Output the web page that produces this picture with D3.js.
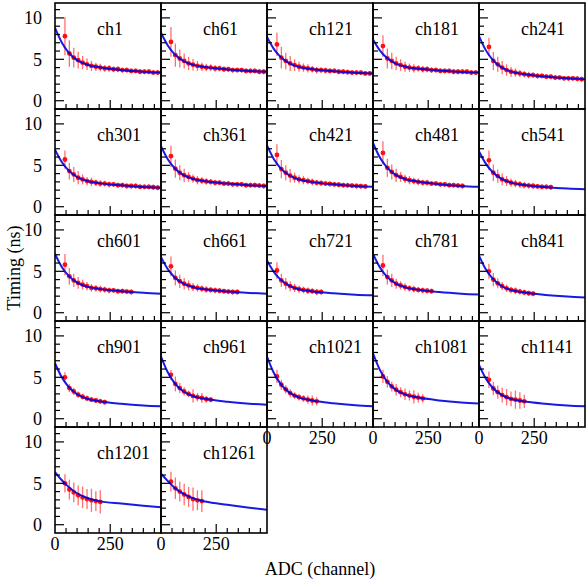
<!doctype html>
<html lang="en">
<head>
  <meta charset="utf-8">
  <title>Timing vs ADC</title>
  <script src="https://d3js.org/d3.v7.min.js" charset="utf-8"></script>
</head>
<body style="margin:0;background:#fff">
<style>
.chart text {
  font-family: "Liberation Serif", "Times New Roman", serif;
  font-size: 18px;
  fill: black;
}
</style>
<svg class="chart"></svg>
<script>
var channels = ["ch1","ch61","ch121","ch181","ch241",
                "ch301","ch361","ch421","ch481","ch541",
                "ch601","ch661","ch721","ch781","ch841",
                "ch901","ch961","ch1021","ch1081","ch1141",
                "ch1201","ch1261"];

// fitted curve, sampled at these ADC values
var fitAdc = [0, 30, 60, 100, 150, 200, 300, 400, 480];
var fitTiming = [
  [8.8, 7.07, 5.88, 4.91, 4.32, 4.05, 3.72, 3.51, 3.4],
  [8.2, 6.7, 5.66, 4.82, 4.3, 4.06, 3.78, 3.59, 3.5],
  [7.7, 6.29, 5.32, 4.53, 4.05, 3.83, 3.56, 3.39, 3.3],
  [7.4, 6.12, 5.24, 4.52, 4.08, 3.88, 3.64, 3.48, 3.4],
  [7.8, 6.14, 4.99, 4.06, 3.48, 3.22, 2.91, 2.7, 2.6],
  [6.9, 5.43, 4.42, 3.59, 3.08, 2.85, 2.58, 2.39, 2.3],
  [7.3, 5.76, 4.71, 3.84, 3.32, 3.08, 2.79, 2.6, 2.5],
  [7.4, 5.8, 4.7, 3.8, 3.25, 3.0, 2.7, 2.5, 2.4],
  [7.7, 6.0, 4.84, 3.88, 3.3, 3.04, 2.72, 2.51, 2.4],
  [6.7, 5.23, 4.22, 3.39, 2.88, 2.65, 2.38, 2.19, 2.1],
  [7.1, 5.56, 4.51, 3.64, 3.12, 2.88, 2.59, 2.4, 2.3],
  [6.7, 5.29, 4.32, 3.53, 3.05, 2.83, 2.56, 2.39, 2.3],
  [6.3, 4.96, 4.03, 3.28, 2.81, 2.6, 2.35, 2.18, 2.1],
  [7.1, 5.53, 4.45, 3.57, 3.03, 2.79, 2.49, 2.3, 2.2],
  [6.9, 5.28, 4.17, 3.26, 2.71, 2.46, 2.15, 1.95, 1.85],
  [6.7, 5.04, 3.89, 2.96, 2.38, 2.12, 1.81, 1.6, 1.5],
  [7.5, 5.64, 4.37, 3.32, 2.69, 2.4, 2.05, 1.82, 1.7],
  [7.5, 5.58, 4.26, 3.18, 2.52, 2.22, 1.86, 1.62, 1.5],
  [7.9, 5.96, 4.63, 3.54, 2.88, 2.58, 2.21, 1.97, 1.85],
  [6.5, 4.9, 3.8, 2.9, 2.35, 2.1, 1.8, 1.6, 1.5],
  [6.35, 5.4, 4.6, 3.8, 3.2, 2.85, 2.55, 2.3, 2.1],
  [6.15, 5.3, 4.5, 3.75, 3.15, 2.8, 2.4, 2.05, 1.8]
];

// measured points (ADC bin centres)
var pointAdc = [45, 65, 85, 105, 125, 145, 165, 185, 205, 225, 245,
                265, 285, 305, 325, 345, 365, 385, 405, 425, 445, 465];
var pointTiming = [
  [7.8, 5.7, 5.2, 4.9, 4.6, 4.4, 4.2, 4.1, 4.0, 3.9, 3.9, 3.8, 3.8, 3.7, 3.7, 3.6, 3.6, 3.5, 3.5, 3.5, 3.4, 3.4],
  [7.1, 5.5, 5.1, 4.8, 4.5, 4.35, 4.2, 4.1, 4.0, 4.0, 3.9, 3.9, 3.8, 3.8, 3.7, 3.7, 3.7, 3.6, 3.6, 3.6, 3.5, 3.5],
  [6.8, 5.2, 4.8, 4.5, 4.3, 4.1, 4.0, 3.9, 3.8, 3.7, 3.7, 3.65, 3.6, 3.6, 3.5, 3.5, 3.45, 3.4, 3.4, 3.4, 3.3, 3.3],
  [6.6, 5.1, 4.8, 4.5, 4.3, 4.1, 4.0, 3.9, 3.9, 3.8, 3.8, 3.7, 3.7, 3.6, 3.6, 3.6, 3.5, 3.5, 3.5, 3.5, 3.4, 3.4],
  [6.5, 4.8, 4.4, 4.0, 3.7, 3.5, 3.4, 3.3, 3.2, 3.1, 3.1, 3.0, 3.0, 2.9, 2.9, 2.8, 2.8, 2.7, 2.7, 2.7, 2.65, 2.6],
  [5.7, 4.3, 3.9, 3.5, 3.3, 3.1, 3.0, 2.9, 2.8, 2.8, 2.7, 2.7, 2.6, 2.6, 2.5, 2.5, 2.5, 2.4, 2.4, 2.4, 2.35, 2.3],
  [6.1, 4.6, 4.1, 3.8, 3.6, 3.4, 3.2, 3.15, 3.05, 3.0, 2.9, 2.9, 2.8, 2.8, 2.7, 2.7, 2.7, 2.6, 2.6, 2.6, 2.55, 2.5],
  [6.25, 4.55, 4.1, 3.75, 3.5, 3.3, 3.2, 3.1, 3.0, 2.9, 2.85, 2.8, 2.75, 2.7, 2.65, 2.6, 2.58, 2.54, 2.5, 2.48, 2.45],
  [6.5, 4.7, 4.2, 3.8, 3.6, 3.35, 3.2, 3.1, 3.0, 2.9, 2.9, 2.8, 2.8, 2.7, 2.7, 2.6, 2.6, 2.55, 2.5],
  [5.6, 4.1, 3.7, 3.3, 3.1, 2.9, 2.8, 2.7, 2.6, 2.55, 2.5, 2.45, 2.4, 2.4, 2.35],
  [5.8, 4.4, 3.9, 3.6, 3.4, 3.2, 3.0, 2.95, 2.85, 2.8, 2.7, 2.7, 2.6, 2.6, 2.55, 2.5],
  [5.6, 4.2, 3.8, 3.5, 3.3, 3.1, 3.0, 2.9, 2.8, 2.75, 2.7, 2.65, 2.6, 2.55, 2.5, 2.5],
  [5.1, 3.9, 3.5, 3.2, 3.0, 2.85, 2.75, 2.65, 2.6, 2.5, 2.5],
  [5.7, 4.3, 3.9, 3.5, 3.3, 3.1, 2.95, 2.85, 2.75, 2.7, 2.65, 2.6],
  [5.0, 4.0, 3.55, 3.2, 2.95, 2.75, 2.65, 2.55, 2.45, 2.35, 2.3],
  [5.0, 3.7, 3.3, 2.9, 2.65, 2.45, 2.3, 2.2, 2.1, 2.0],
  [5.3, 4.2, 3.7, 3.3, 3.0, 2.75, 2.6, 2.5, 2.35, 2.3],
  [5.1, 4.1, 3.55, 3.1, 2.8, 2.6, 2.45, 2.3, 2.2, 2.1],
  [5.1, 4.45, 3.9, 3.5, 3.2, 2.95, 2.8, 2.65, 2.55, 2.45],
  [4.7, 3.65, 3.2, 2.85, 2.6, 2.4, 2.3, 2.2, 2.1],
  [5.0, 4.25, 3.9, 3.55, 3.3, 3.1, 2.95, 2.85, 2.75],
  [5.2, 4.4, 4.0, 3.65, 3.35, 3.1, 2.95, 2.85]
];
var pointError = [
  [2.3, 1.6, 1.2, 1.0, 0.8, 0.7, 0.6, 0.5, 0.45, 0.4, 0.4, 0.35, 0.35, 0.3, 0.3, 0.3, 0.3, 0.3, 0.3, 0.3, 0.3, 0.3],
  [1.8, 1.4, 1.1, 0.9, 0.8, 0.7, 0.6, 0.5, 0.45, 0.4, 0.4, 0.35, 0.35, 0.3, 0.3, 0.3, 0.3, 0.3, 0.3, 0.3, 0.3, 0.3],
  [1.4, 1.3, 1.0, 0.9, 0.7, 0.6, 0.5, 0.5, 0.4, 0.4, 0.35, 0.35, 0.3, 0.3, 0.3, 0.3, 0.3, 0.3, 0.3, 0.3, 0.3, 0.3],
  [1.3, 1.2, 1.0, 0.8, 0.7, 0.6, 0.5, 0.5, 0.4, 0.4, 0.35, 0.35, 0.3, 0.3, 0.3, 0.3, 0.3, 0.3, 0.3, 0.3, 0.3, 0.3],
  [1.1, 1.1, 0.9, 0.8, 0.7, 0.6, 0.5, 0.45, 0.4, 0.4, 0.35, 0.35, 0.3, 0.3, 0.3, 0.3, 0.3, 0.3, 0.3, 0.3, 0.3, 0.3],
  [1.1, 1.0, 0.9, 0.8, 0.6, 0.5, 0.5, 0.4, 0.4, 0.35, 0.35, 0.3, 0.3, 0.3, 0.3, 0.3, 0.3, 0.3, 0.3, 0.3, 0.3, 0.3],
  [1.3, 1.1, 0.9, 0.8, 0.6, 0.5, 0.5, 0.4, 0.4, 0.35, 0.35, 0.3, 0.3, 0.3, 0.3, 0.3, 0.3, 0.3, 0.3, 0.3, 0.3, 0.3],
  [1.3, 1.1, 0.9, 0.8, 0.6, 0.5, 0.5, 0.4, 0.4, 0.35, 0.35, 0.3, 0.3, 0.3, 0.3, 0.3, 0.3, 0.3, 0.3, 0.3, 0.3],
  [1.4, 1.1, 0.9, 0.8, 0.6, 0.5, 0.5, 0.4, 0.4, 0.35, 0.35, 0.3, 0.3, 0.3, 0.3, 0.3, 0.3, 0.3, 0.3],
  [1.2, 1.0, 0.8, 0.7, 0.6, 0.5, 0.45, 0.4, 0.4, 0.35, 0.35, 0.3, 0.3, 0.3, 0.3],
  [1.3, 1.0, 0.8, 0.7, 0.6, 0.5, 0.45, 0.4, 0.4, 0.35, 0.35, 0.3, 0.3, 0.3, 0.3, 0.3],
  [1.2, 0.9, 0.8, 0.7, 0.6, 0.5, 0.45, 0.4, 0.4, 0.35, 0.35, 0.3, 0.3, 0.3, 0.3, 0.3],
  [1.0, 0.8, 0.7, 0.6, 0.5, 0.45, 0.4, 0.4, 0.35, 0.35, 0.3],
  [1.3, 0.9, 0.8, 0.6, 0.5, 0.45, 0.4, 0.4, 0.35, 0.35, 0.3, 0.3],
  [0.9, 0.8, 0.6, 0.5, 0.45, 0.4, 0.4, 0.35, 0.35, 0.3, 0.3],
  [0.6, 0.5, 0.45, 0.4, 0.35, 0.35, 0.3, 0.3, 0.3, 0.3],
  [0.6, 0.9, 0.6, 0.5, 0.4, 0.8, 0.5, 0.6, 0.4, 0.3],
  [0.8, 0.6, 0.5, 0.5, 0.4, 0.4, 0.4, 0.5, 0.6, 0.5],
  [0.8, 0.7, 0.6, 0.7, 0.6, 0.7, 0.6, 0.8, 0.6, 0.5],
  [1.0, 0.8, 0.8, 0.9, 1.0, 0.9, 1.1, 1.0, 0.8],
  [1.1, 1.2, 1.2, 1.2, 1.3, 1.2, 1.4, 1.2, 1.4],
  [1.2, 1.3, 1.2, 1.3, 1.2, 1.4, 1.2, 1.3]
];

var xTickLabels = [0, 250];
var yTickLabels = [0, 5, 10];

var width = 588, height = 582;
var padLeft = 55, padTop = 3, cellW = 106, cellH = 106, nCols = 5;

var svg = d3.select(".chart")
  .attr("width", width)
  .attr("height", height);

var x = d3.scaleLinear().domain([0, 480]).range([0, cellW]);
var y = d3.scaleLinear().domain([-1, 11.8]).range([cellH, 0]);

var line = d3.line()
  .x(function(d) { return x(d[0]); })
  .y(function(d) { return y(d[1]); })
  .curve(d3.curveMonotoneX);

svg.append("defs").append("clipPath").attr("id", "cell")
  .append("rect").attr("width", cellW).attr("height", cellH);

channels.forEach(function(name, i) {
  var col = i % nCols, row = Math.floor(i / nCols);
  var g = svg.append("g")
    .attr("transform", "translate(" + (padLeft + col * cellW) + "," + (padTop + row * cellH) + ")");

  var plot = g.append("g").attr("clip-path", "url(#cell)");

  var pts = pointTiming[i].map(function(t, k) {
    return { adc: pointAdc[k], t: t, e: pointError[i][k] };
  });

  plot.selectAll("line.err")
    .data(pts)
  .enter().append("line")
    .attr("class", "err")
    .attr("x1", function(d) { return x(d.adc); })
    .attr("x2", function(d) { return x(d.adc); })
    .attr("y1", function(d) { return y(d.t - d.e); })
    .attr("y2", function(d) { return y(d.t + d.e); })
    .attr("stroke", "#ff3030")
    .attr("stroke-opacity", 0.7)
    .attr("stroke-width", 1.3);

  plot.selectAll("circle.pt")
    .data(pts)
  .enter().append("circle")
    .attr("class", "pt")
    .attr("cx", function(d) { return x(d.adc); })
    .attr("cy", function(d) { return y(d.t); })
    .attr("r", 2.4)
    .attr("fill", "#ff1010");

  plot.append("path")
    .datum(fitAdc.map(function(a, k) { return [a, fitTiming[i][k]]; }))
    .attr("d", line)
    .attr("fill", "none")
    .attr("stroke", "#0000e0")
    .attr("stroke-opacity", 0.9)
    .attr("stroke-width", 2);

  // left ticks, inside
  g.selectAll("line.yt")
    .data(d3.range(0, 12))
  .enter().append("line")
    .attr("class", "yt")
    .attr("x1", 0)
    .attr("x2", function(d) { return d % 5 === 0 ? 9 : 5; })
    .attr("y1", function(d) { return y(d); })
    .attr("y2", function(d) { return y(d); })
    .attr("stroke", "black")
    .attr("stroke-width", 1.2);

  // bottom ticks, inside
  g.selectAll("line.xt")
    .data(d3.range(50, 480, 50))
  .enter().append("line")
    .attr("class", "xt")
    .attr("x1", function(d) { return x(d); })
    .attr("x2", function(d) { return x(d); })
    .attr("y1", cellH)
    .attr("y2", function(d) { return d % 250 === 0 ? cellH - 9 : cellH - 5; })
    .attr("stroke", "black")
    .attr("stroke-width", 1.2);

  g.append("rect")
    .attr("width", cellW)
    .attr("height", cellH)
    .attr("fill", "none")
    .attr("stroke", "black")
    .attr("stroke-width", 1.6);

  g.append("text")
    .attr("x", 42)
    .attr("y", 32)
    .text(name);

  if (col === 0) {
    g.selectAll("text.yl")
      .data(yTickLabels)
    .enter().append("text")
      .attr("class", "yl")
      .attr("x", -13)
      .attr("y", function(d) { return y(d); })
      .attr("dy", "0.35em")
      .attr("text-anchor", "end")
      .text(function(d) { return d; });
  }

  // x labels where no panel sits below
  if (i + nCols >= channels.length) {
    g.selectAll("text.xl")
      .data(xTickLabels)
    .enter().append("text")
      .attr("class", "xl")
      .attr("x", function(d) { return x(d); })
      .attr("y", cellH + 17)
      .attr("text-anchor", "middle")
      .text(function(d) { return d; });
  }
});

svg.append("text")
  .attr("transform", "translate(20," + (padTop + 2.5 * cellH) + ") rotate(-90)")
  .attr("text-anchor", "middle")
  .text("Timing (ns)");

svg.append("text")
  .attr("x", padLeft + 2.5 * cellW)
  .attr("y", 575)
  .attr("text-anchor", "middle")
  .text("ADC (channel)");
</script>
</body>
</html>
